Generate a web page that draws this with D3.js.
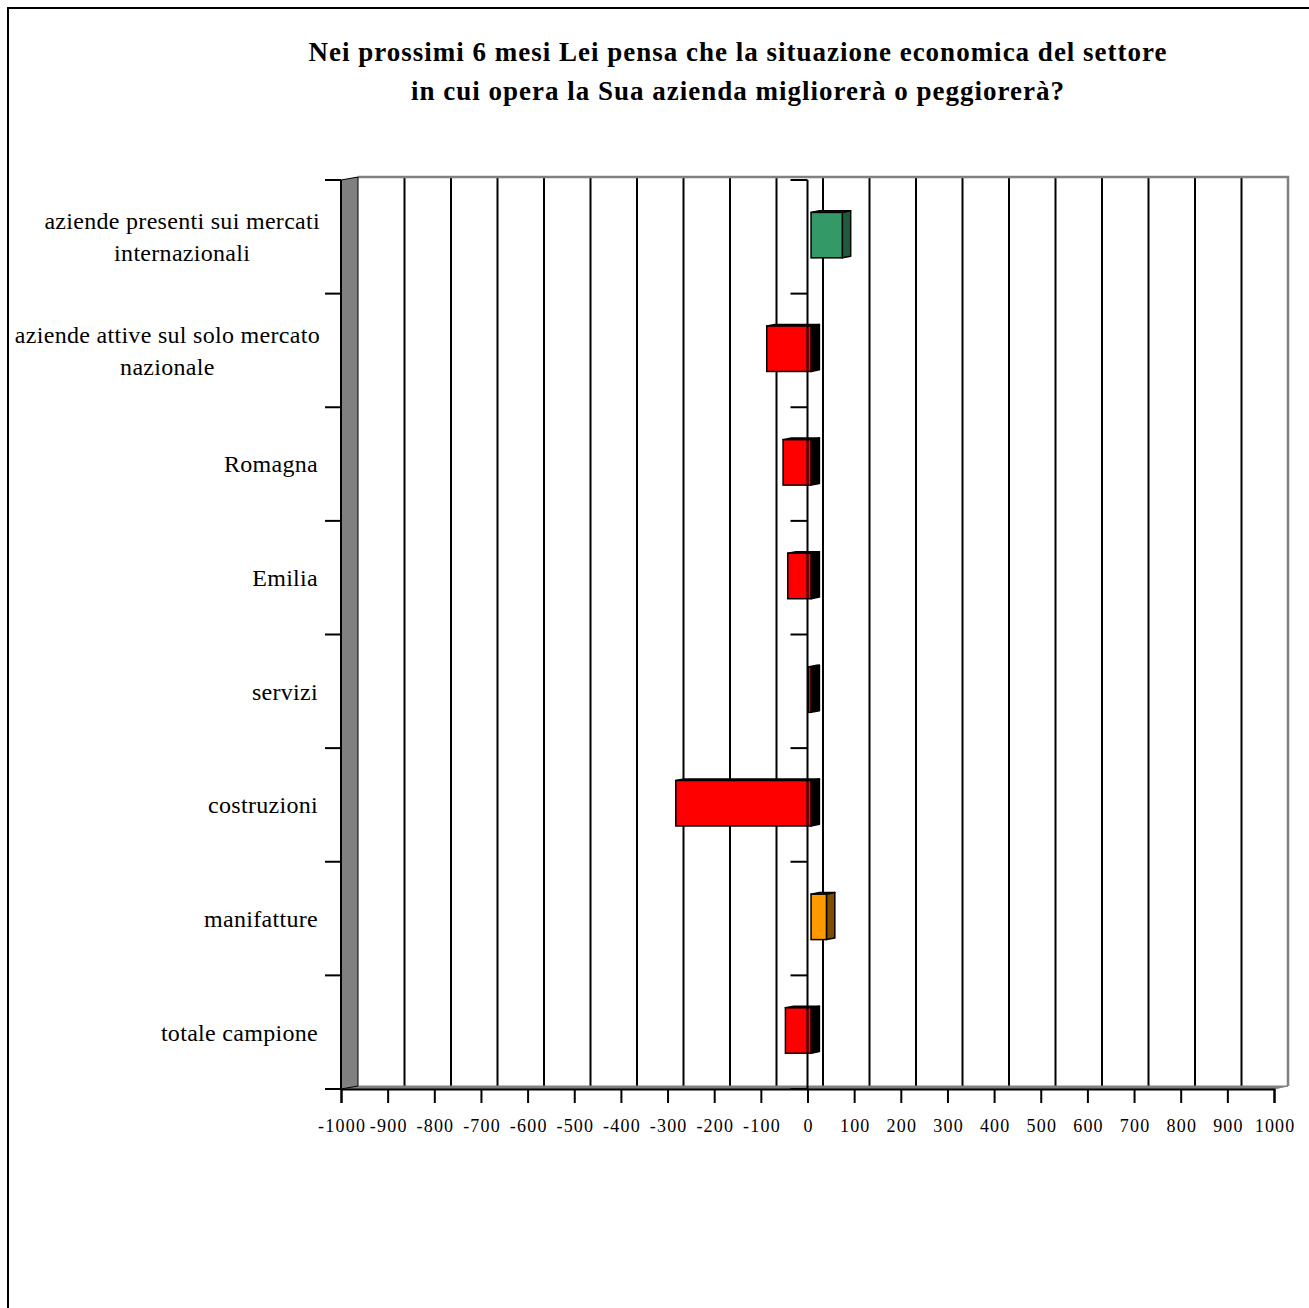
<!DOCTYPE html>
<html><head><meta charset="utf-8">
<script src="https://cdnjs.cloudflare.com/ajax/libs/d3/7.8.5/d3.min.js"></script>
<style>body{margin:0;background:#fff}svg{display:block}</style>
</head><body><svg id="c" width="1309" height="1308"></svg>
<script>
const titleLines = ["Nei prossimi 6 mesi Lei pensa che la situazione economica del settore",
                    "in cui opera la Sua azienda migliorerà o peggiorerà?"];
const categories = ["aziende presenti sui mercati internazionali","aziende attive sul solo mercato nazionale","Romagna","Emilia","servizi","costruzioni","manifatture","totale campione"];
const labelLines = [["aziende presenti sui mercati","internazionali"],["aziende attive sul solo mercato","nazionale"],["Romagna"],["Emilia"],["servizi"],["costruzioni"],["manifatture"],["totale campione"]];
const values = [67, -95, -60, -50, -6, -290, 33, -55];
const barColors = ["#339966","#FF0000","#FF0000","#FF0000","#FF0000","#FF0000","#FF9900","#FF0000"];
const sideColors = ["#1E5C3D","#000000","#000000","#000000","#000000","#000000","#7F4C00","#000000"];
const xTicks = d3.range(-1000, 1001, 100);

const svg = d3.select("#c");
const serif = "'Liberation Serif','Times New Roman',serif";

// outer border
svg.append("rect").attr("x",8).attr("y",8).attr("width",1400).attr("height",1400)
  .attr("fill","none").attr("stroke","#000").attr("stroke-width",2);

// title
svg.append("g").selectAll("text").data(titleLines).join("text")
  .attr("x",738).attr("y",(d,i)=>61+i*39).attr("text-anchor","middle")
  .attr("font-family",serif).attr("font-weight","bold").attr("font-size",27)
  .attr("letter-spacing",1)
  .text(d=>d);

const x = d3.scaleLinear().domain([-1000,1000]).range([341,1274]);
const xb = d3.scaleLinear().domain([-1000,1000]).range([358,1288]);
const y = d3.scaleBand().domain(categories).range([180,1089]);
const dy = -3;
const yTop = 180, yBot = 1089;

// back wall gridlines
svg.append("g").selectAll("line").data(xTicks.slice(1,-1)).join("line")
  .attr("x1",d=>xb(d)).attr("x2",d=>xb(d)).attr("y1",yTop+dy).attr("y2",yBot+dy)
  .attr("stroke","#000").attr("stroke-width",2);
// back wall border
svg.append("path")
  .attr("d",`M${xb(-1000)},${yTop+dy}H${xb(1000)}V${yBot+dy}`)
  .attr("fill","none").attr("stroke","#808080").attr("stroke-width",2.5);
// floor
svg.append("path")
  .attr("d",`M${x(-1000)},${yBot}L${xb(-1000)},${yBot+dy}H${xb(1000)}L${x(1000)},${yBot}Z`)
  .attr("fill","#808080").attr("stroke","#808080").attr("stroke-width",1);
// left side wall
svg.append("path")
  .attr("d",`M${x(-1000)},${yTop}L${xb(-1000)},${yTop+dy}V${yBot+dy}L${x(-1000)},${yBot}Z`)
  .attr("fill","#808080").attr("stroke","#000").attr("stroke-width",1);

// bars (3D)
const f1 = 0.23, f2 = 0.77;
const depthX = v => (xb(v)-x(v));
const bh = y.bandwidth()*0.4;
const bars = svg.append("g");
categories.forEach((c,i)=>{
  const v = values[i];
  const lo = Math.min(0,v), hi = Math.max(0,v);
  const ox1 = depthX(0)*f1, oy1 = dy*f1, ox2 = depthX(0)*f2, oy2 = dy*f2;
  const x0 = x(lo)+ox1, x1 = x(hi)+ox1;
  const y0 = y(c)+y.bandwidth()/2 - bh/2 - 1 + oy1;
  const ddx = ox2-ox1, ddy = oy2-oy1;
  bars.append("path").attr("d",`M${x0},${y0}L${x0+ddx},${y0+ddy}H${x1+ddx}L${x1},${y0}Z`)
    .attr("fill",sideColors[i]).attr("stroke","#000").attr("stroke-width",1.5).attr("stroke-linejoin","round");
  bars.append("path").attr("d",`M${x1},${y0}L${x1+ddx},${y0+ddy}V${y0+ddy+bh}L${x1},${y0+bh}Z`)
    .attr("fill",sideColors[i]).attr("stroke","#000").attr("stroke-width",1.5).attr("stroke-linejoin","round");
  bars.append("rect").attr("x",x0).attr("y",y0).attr("width",x1-x0).attr("height",bh)
    .attr("fill",barColors[i]).attr("stroke","#000").attr("stroke-width",1.5);
});

// zero axis (front)
svg.append("line").attr("x1",x(0)).attr("x2",x(0)).attr("y1",yTop).attr("y2",yBot)
  .attr("stroke","#000").attr("stroke-width",2);
const catEdges = d3.range(categories.length+1).map(i=>yTop + i*y.step());
svg.append("g").selectAll("line").data(catEdges).join("line")
  .attr("x1",x(0)-17).attr("x2",x(0)).attr("y1",d=>d).attr("y2",d=>d)
  .attr("stroke","#000").attr("stroke-width",2);

// left category axis
svg.append("line").attr("x1",x(-1000)).attr("x2",x(-1000)).attr("y1",yTop).attr("y2",yBot)
  .attr("stroke","#000").attr("stroke-width",2);
svg.append("g").selectAll("line").data(catEdges).join("line")
  .attr("x1",x(-1000)-16).attr("x2",x(-1000)).attr("y1",d=>d).attr("y2",d=>d)
  .attr("stroke","#000").attr("stroke-width",2);

// bottom value axis
const xAxis = d3.axisBottom(x).tickValues(xTicks).tickSize(14).tickPadding(16).tickFormat(d3.format("d"));
const gx = svg.append("g").attr("transform",`translate(0,${yBot})`).call(xAxis);
gx.select(".domain").attr("stroke","#000").attr("stroke-width",2);
gx.selectAll(".tick line").attr("stroke","#000").attr("stroke-width",2);
gx.selectAll(".tick text").attr("font-family",serif).attr("font-size",18).attr("fill","#000")
  .attr("letter-spacing",1.2).attr("dx",0.6)
  .text(d=>d<0?"-"+Math.abs(d):String(d));

// category labels
const labG = svg.append("g").attr("font-family",serif).attr("font-size",24).attr("fill","#000").attr("letter-spacing",0.3);
categories.forEach((c,i)=>{
  const lines = labelLines[i];
  const cy = y(c)+y.bandwidth()/2;
  const g = labG.append("g");
  const ts = lines.map((l,j)=>g.append("text").attr("y",cy + (j-(lines.length-1)/2)*32).attr("dy","0.35em")
    .attr("text-anchor","middle").text(l));
  const w = d3.max(ts, t=>t.node().getComputedTextLength());
  const right = lines.length>1 ? 320 : 318;
  ts.forEach(t=>t.attr("x", right - w/2));
});
</script></body></html>
